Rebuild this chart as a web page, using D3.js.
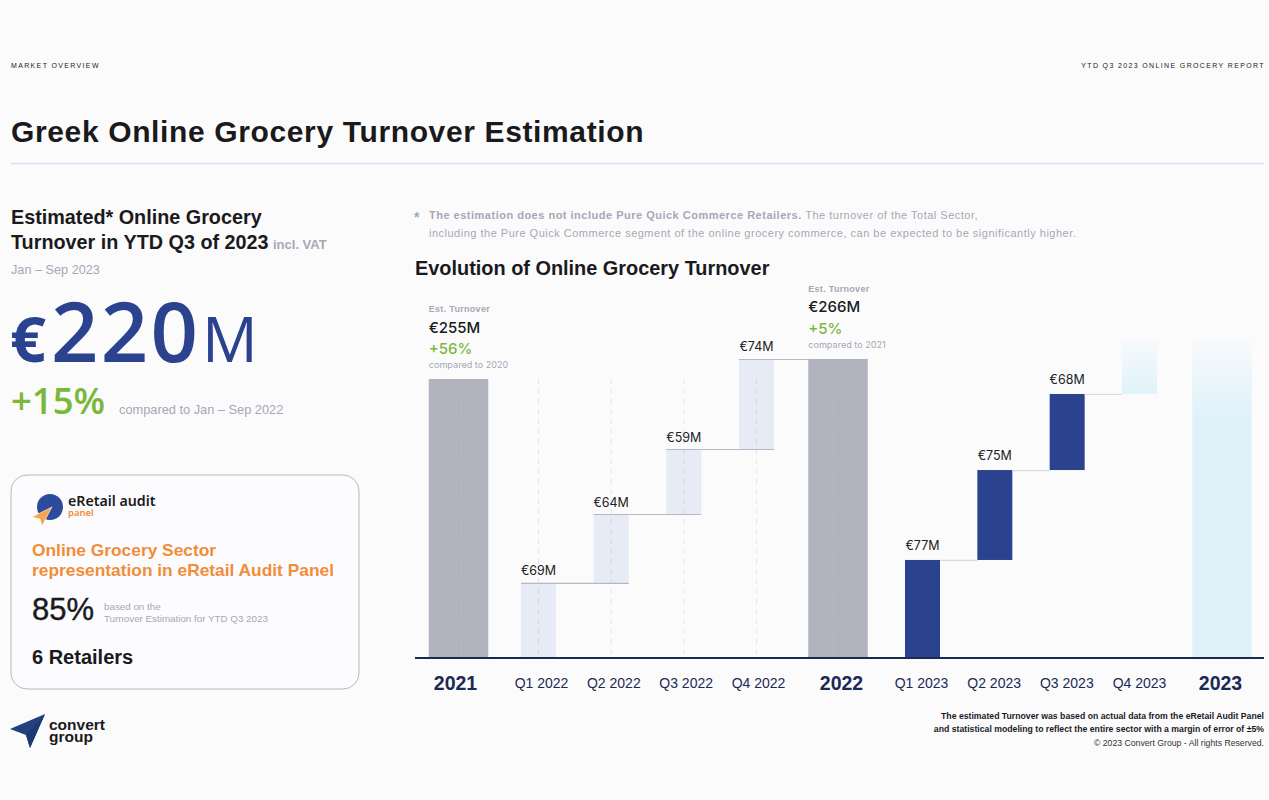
<!DOCTYPE html>
<html>
<head>
<meta charset="utf-8">
<script src="https://cdn.jsdelivr.net/npm/d3@7"></script>
<style>
html, body { margin: 0; padding: 0; background: #fbfbfc; }
svg { display: block; }
text { font-family: "Liberation Sans", Arial, sans-serif; }
</style>
</head>
<body>
<svg id="chart" width="1269" height="800"></svg>
<script>
var categories = ["2021", "Q1 2022", "Q2 2022", "Q3 2022", "Q4 2022", "2022", "Q1 2023", "Q2 2023", "Q3 2023", "Q4 2023", "2023"];
// printed turnover in €M, null where the picture prints none
var turnover = [255, 69, 64, 59, 74, 266, 77, 75, 68, null, null];
// the source bars are not to scale with their labels, so these are the tops as
// drawn in the units of the 2021 bar
var drawnTop = [255, 68.6, 131.6, 191, 273.3, 273.3, 89.6, 171.8, 241.3, 290.7, 290.7];
var drawnBase = [0, 0, 68.6, 131.6, 191, 0, 0, 89.6, 171.8, 241.3, 0];
var barKind = ["past", "past-q", "past-q", "past-q", "past-q", "past", "now-q", "now-q", "now-q", "future-q", "future"];

var calloutYears = ["2021", "2022"];
var calloutValues = ["€255M", "€266M"];
var calloutChanges = ["+56%", "+5%"];
var calloutNotes = ["compared to 2020", "compared to 2021"];

var svg = d3.select("#chart");
var blue = "#2b438f", green = "#7ab83c", orange = "#f28c38", ink = "#1a1a1c", grey = "#a6a8b5", navy = "#1b2a55";

svg.append("rect").attr("width", 1269).attr("height", 800).attr("fill", "#fbfbfc");

var defs = svg.append("defs");
var fade = defs.append("linearGradient").attr("id", "fadeQ").attr("x1", 0).attr("y1", 0).attr("x2", 0).attr("y2", 1);
fade.append("stop").attr("offset", 0).attr("stop-color", "#dff2fa").attr("stop-opacity", 0.12);
fade.append("stop").attr("offset", 1).attr("stop-color", "#dff2fa");
var fadeLong = defs.append("linearGradient").attr("id", "fadeY").attr("x1", 0).attr("y1", 0).attr("x2", 0).attr("y2", 1);
fadeLong.append("stop").attr("offset", 0).attr("stop-color", "#dff2fa").attr("stop-opacity", 0.12);
fadeLong.append("stop").attr("offset", 0.24).attr("stop-color", "#dff2fa");
fadeLong.append("stop").attr("offset", 1).attr("stop-color", "#dff2fa");

// text helper
function label(x, y, str, size, color, opts) {
    opts = opts || {};
    return svg.append("text")
        .attr("x", x).attr("y", y)
        .attr("font-size", size)
        .attr("fill", color)
        .attr("font-weight", opts.weight || 400)
        .attr("text-anchor", opts.anchor || "start")
        .style("font-family", opts.font || null)
        .style("letter-spacing", opts.spacing || null)
        .text(str);
}

// header
label(11, 68, "MARKET OVERVIEW", 7, "#222", { spacing: "1.35px" });
label(1265, 68, "YTD Q3 2023 ONLINE GROCERY REPORT", 7, "#222", { anchor: "end", spacing: "1.36px" });
label(11, 142, "Greek Online Grocery Turnover Estimation", 30, ink, { weight: 700, spacing: "0.63px" });
svg.append("line").attr("x1", 11).attr("x2", 1264).attr("y1", 163.5).attr("y2", 163.5).attr("stroke", "#dcdff0").attr("stroke-width", 1.5);

// left column
label(11, 224, "Estimated* Online Grocery", 19.8, ink, { weight: 700 });
label(11, 249, "Turnover in YTD Q3 of 2023", 19.8, ink, { weight: 700 });
label(273, 249, "incl. VAT", 13, grey, { weight: 700 });
label(11, 274, "Jan – Sep 2023", 12.7, grey);
label(10, 362, "€", 63, blue, { weight: 700, font: "Open Sans" });
label(51, 362, "220", 83, blue, { weight: 600, font: "Open Sans", spacing: "2.3px" });
label(202, 362, "M", 62, blue, { font: "Open Sans" });
label(11, 414, "+15%", 36.5, green, { weight: 600, font: "Open Sans" });
label(119, 414, "compared to Jan – Sep 2022", 12.8, grey);

// panel
svg.append("rect").attr("x", 11).attr("y", 475).attr("width", 348).attr("height", 214).attr("rx", 16)
    .attr("fill", "#fcfcfe").attr("stroke", "#b6b8c2");
svg.append("circle").attr("cx", 50).attr("cy", 507).attr("r", 13).attr("fill", "#2d4b9c");
svg.append("path").attr("d", "M32 517 L52 507 L42 526 L40 519 Z").attr("fill", "#f7a54a").attr("stroke", "#fcfcfe").attr("stroke-width", 0.6);
label(68, 506, "eRetail audit", 14.2, ink, { weight: 600, font: "Noto Sans" });
label(68, 516, "panel", 9.5, orange, { weight: 600, font: "Noto Sans" });
label(32, 556, "Online Grocery Sector", 17.35, orange, { weight: 700 });
label(32, 576, "representation in eRetail Audit Panel", 17.35, orange, { weight: 700 });
label(32, 620, "85%", 31, ink).attr("stroke", ink).attr("stroke-width", 0.4);
label(104, 610, "based on the", 9.8, grey);
label(104, 622, "Turnover Estimation for YTD Q3 2023", 9.8, grey);
label(32, 664, "6 Retailers", 20, ink, { weight: 700 });

// company mark
svg.append("path").attr("d", "M10 729 L45 714 L30 748 L26 735 Z").attr("fill", "#24407f");
svg.append("path").attr("d", "M45 714 L26 735 L30 748 Z").attr("fill", "#1e3872");
var mark = label(49, 729.5, "convert", 15.5, ink, { weight: 700 });
mark.text(null);
mark.append("tspan").attr("x", 49).text("convert");
mark.append("tspan").attr("x", 49).attr("dy", 12).text("group");

// note
label(414, 222, "*", 14, grey, { weight: 700 });
var note = label(429, 219, "", 11, grey, { spacing: "0.5px" });
note.append("tspan").attr("font-weight", 700).text("The estimation does not include Pure Quick Commerce Retailers. ");
note.append("tspan").text("The turnover of the Total Sector,");
label(429, 237, "including the Pure Quick Commerce segment of the online grocery commerce, can be expected to be significantly higher.", 11, grey, { spacing: "0.5px" });
label(415, 275, "Evolution of Online Grocery Turnover", 19.9, ink, { weight: 700 });

// scales: the slots are evenly spaced inside each year, wider around the totals
var x = d3.scaleLinear()
    .domain([0, 1, 4, 5, 6, 9, 10])
    .range([458.5, 538.5, 756.5, 838, 922.5, 1139.5, 1222]);
// the axis labels sit slightly off the bar centres in the source
var xLabels = d3.scaleLinear()
    .domain([0, 1, 4, 5, 6, 9, 10])
    .range([455, 541, 758, 841, 921, 1139, 1220]);
var y = d3.scaleLinear().domain([0, 255]).range([658, 379]);

function isTotal(d) { return d.kind.indexOf("-q") < 0; }
function barWidth(d) { return isTotal(d) ? 59.5 : 35; }
function barFill(d) {
    if (d.kind === "past") return "#b1b3bf";
    if (d.kind === "past-q") return "#e7ebf5";
    if (d.kind === "now-q") return blue;
    return d.kind === "future-q" ? "url(#fadeQ)" : "url(#fadeY)";
}

var rows = categories.map(function (c, i) {
    return { name: c, i: i, value: turnover[i], top: drawnTop[i], base: drawnBase[i], kind: barKind[i] };
});

// bars
svg.append("g").selectAll("rect").data(rows).enter()
    .append("rect")
    .attr("x", function (d) { return x(d.i) - barWidth(d) / 2; })
    .attr("width", barWidth)
    .attr("y", function (d) { return y(d.top); })
    .attr("height", function (d) { return y(d.base) - y(d.top); })
    .attr("fill", barFill);

// dashed guides over the 2021 and 2022 part
svg.append("g").selectAll("line").data(rows.filter(function (d) { return d.i <= 5; })).enter()
    .append("line")
    .attr("x1", function (d) { return x(d.i); })
    .attr("x2", function (d) { return x(d.i); })
    .attr("y1", function (d) { return isTotal(d) ? y(235) : y(255); })
    .attr("y2", y(0))
    .attr("stroke", "#8f91a0")
    .attr("stroke-opacity", 0.22)
    .attr("stroke-dasharray", "5 5");

// connectors from a quarter's top to the far side of the next bar
svg.append("g").selectAll("line").data(rows.filter(function (d) { return d.value !== null && d.i !== 0 && d.i !== 5 && d.i < 9; })).enter()
    .append("line")
    .attr("x1", function (d) { return x(d.i) - (d.kind === "now-q" ? -barWidth(d) / 2 : barWidth(d) / 2); })
    .attr("x2", function (d) {
        var next = rows[d.i + 1];
        if (isTotal(next)) return x(next.i) - barWidth(next) / 2;
        return x(next.i) + (d.kind === "now-q" ? -1 : 1) * barWidth(next) / 2;
    })
    .attr("y1", function (d) { return y(d.top) + 0.5; })
    .attr("y2", function (d) { return y(d.top) + 0.5; })
    .attr("stroke", function (d) { return d.kind === "now-q" ? "#d9dae0" : "#b5b7c3"; })
    .attr("stroke-width", 1.2);

// value labels on the quarters
svg.append("g").selectAll("text").data(rows.filter(function (d) { return d.value !== null && !isTotal(d); })).enter()
    .append("text")
    .attr("x", function (d) { return x(d.i); })
    .attr("y", function (d) { return y(d.top) - (d.kind === "now-q" ? 10 : 7.5); })
    .attr("text-anchor", "middle")
    .attr("font-size", 12.5)
    .attr("fill", "#222")
    .style("font-family", "Inter")
    .text(function (d) { return "€" + d.value + "M"; });

// callouts above the two known totals
calloutYears.forEach(function (year, k) {
    var d = rows[categories.indexOf(year)];
    var left = x(d.i) - barWidth(d) / 2;
    var top = y(d.top);
    label(left, top - 67, "Est. Turnover", 9, grey, { weight: 700, spacing: "0.3px" });
    label(left, top - 46.5, calloutValues[k], 15, ink, { weight: 500, font: "Inter" });
    label(left, top - 25, calloutChanges[k], 15, green, { weight: 500, font: "Inter" });
    label(left, top - 11, calloutNotes[k], 9.1, grey, { font: "Inter" });
});

// baseline and category axis
var axis = d3.axisBottom(xLabels)
    .tickValues(categories.map(function (c, i) { return i; }))
    .tickFormat(function (i) { return categories[i]; })
    .tickSize(0)
    .tickPadding(0);
var axisG = svg.append("g").attr("transform", "translate(0,676)").call(axis);
axisG.select(".domain").remove();
axisG.selectAll("text")
    .attr("y", function (i) { return barKind[i].indexOf("-q") < 0 ? 0 : 2; })
    .attr("dy", "0.71em")
    .attr("fill", navy)
    .attr("font-size", function (i) { return barKind[i].indexOf("-q") < 0 ? 19.5 : 14; })
    .attr("font-weight", function (i) { return barKind[i].indexOf("-q") < 0 ? 700 : 400; })
    .style("font-family", "Liberation Sans");
svg.append("line").attr("x1", 415).attr("x2", 1264).attr("y1", y(0)).attr("y2", y(0)).attr("stroke", navy).attr("stroke-width", 2);

// footer
label(1264, 719, "The estimated Turnover was based on actual data from the eRetail Audit Panel", 8.7, ink, { anchor: "end", weight: 700 });
label(1264, 732, "and statistical modeling to reflect the entire sector with a margin of error of ±5%", 8.7, ink, { anchor: "end", weight: 700 });
label(1264, 745.5, "© 2023 Convert Group - All rights Reserved.", 8.7, "#333", { anchor: "end" });
</script>
</body>
</html>
